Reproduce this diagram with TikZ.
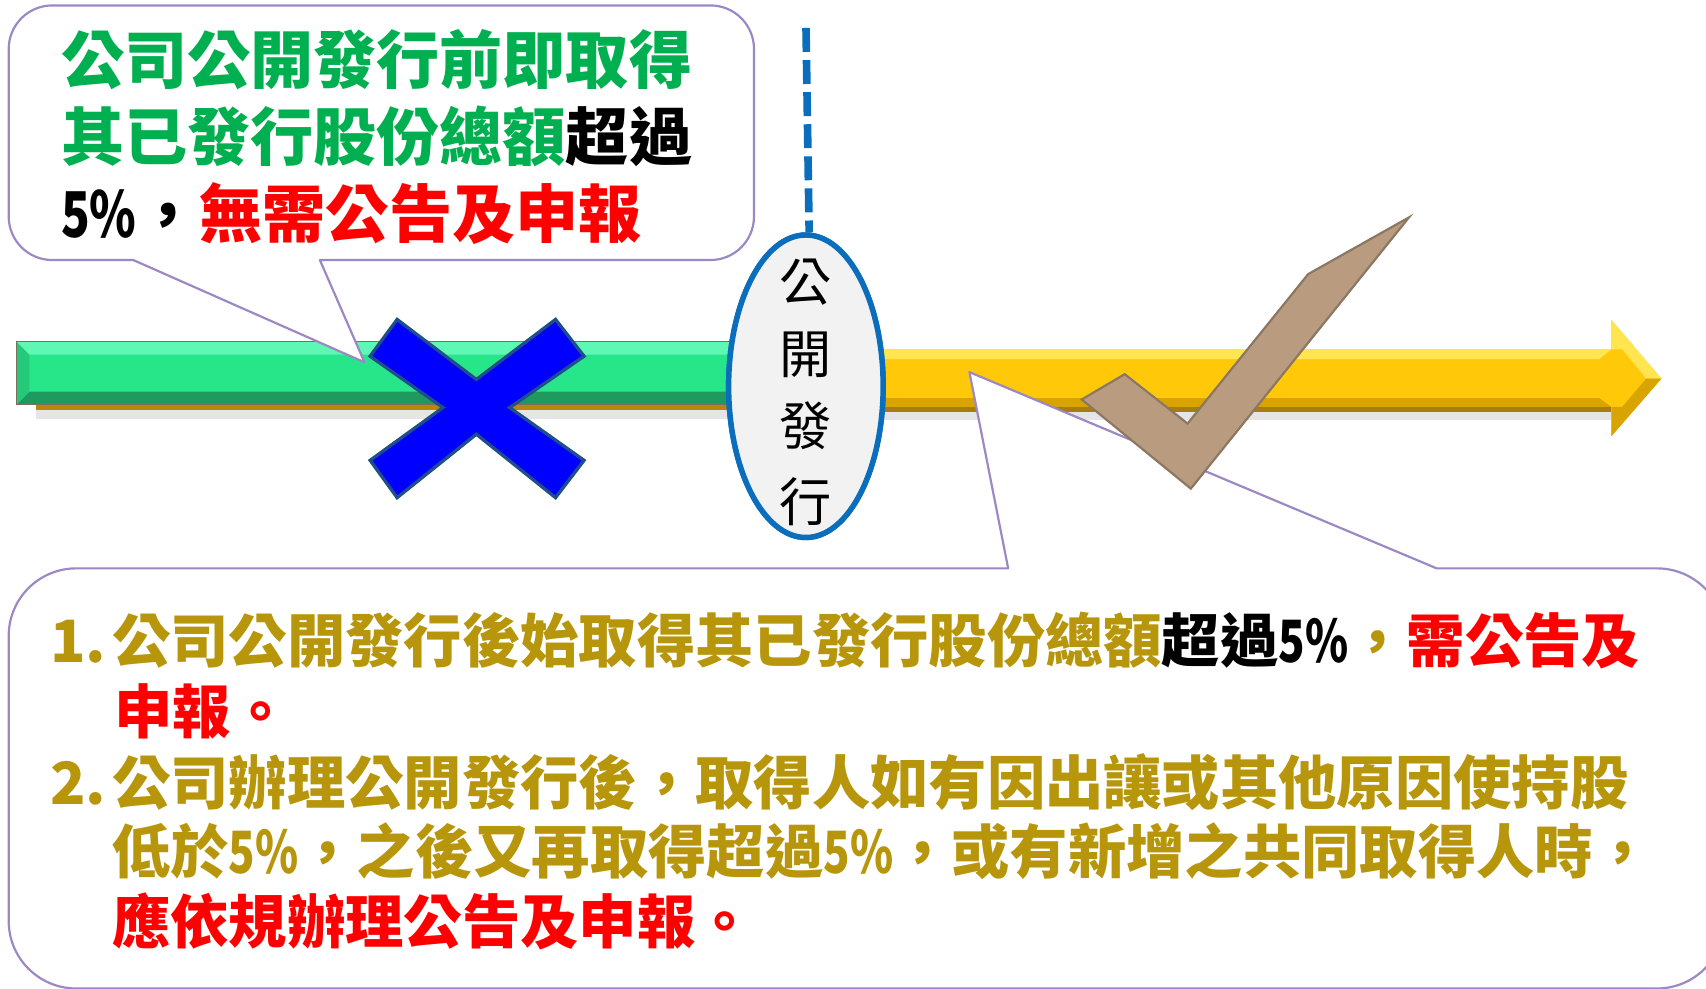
\documentclass[tikz,border=0pt]{standalone}
\usepackage{fontspec}
\usepackage{graphicx}
\usetikzlibrary{shapes.geometric}
\newfontfamily\cjk{Noto Sans CJK TC}
\definecolor{tgreen}{HTML}{00B050}
\definecolor{tred}{HTML}{FF0000}
\definecolor{tgold}{HTML}{B8960C}
\definecolor{cbord}{HTML}{9C88C4}
\definecolor{eblue}{HTML}{0A6EBD}
\definecolor{efill}{HTML}{F2F2F2}
\definecolor{gmain}{HTML}{27E68A}
\definecolor{glight}{HTML}{5EF8B4}
\definecolor{gdark}{HTML}{1E9A5E}
\definecolor{gside}{HTML}{24C97A}
\definecolor{gbord}{HTML}{7D6E60}
\definecolor{shgold}{HTML}{B8860B}
\definecolor{ymain}{HTML}{FFC90A}
\definecolor{ylight}{HTML}{FFE650}
\definecolor{ydark}{HTML}{D9A300}
\definecolor{yshadow}{HTML}{A87C10}
\definecolor{xfill}{HTML}{0000FF}
\definecolor{xbord}{HTML}{1F4E8C}
\definecolor{ckfill}{HTML}{B99C80}
\definecolor{ckbord}{HTML}{8B7762}
\newcommand\pctv{\scalebox{0.75}[1]{5\%}}
\begin{document}
\begin{tikzpicture}[x=1pt,y=-1pt,
  callout/.style={draw=cbord, line width=2pt, fill=white, line join=round},
  toptxt/.style={anchor=base west, inner sep=0pt, font=\cjk\bfseries\fontsize{58}{70}\selectfont},
  bottxt/.style={anchor=base west, inner sep=0pt, font=\cjk\bfseries\fontsize{53.6}{64}\selectfont, text=tgold},
  pubtxt/.style={inner sep=0pt, font=\cjk\fontsize{48}{58}\selectfont},
  pubring/.style={ellipse, draw=eblue, line width=5pt, fill=efill, minimum width=142pt, minimum height=278pt, inner sep=0pt},
  dashline/.style={draw=eblue, line width=7pt, dash pattern=on 22pt off 7.5pt},
  crossshape/.style={fill=xfill, draw=xbord, line width=3pt, line join=miter},
  checkshape/.style={fill=ckfill, draw=ckbord, line width=2pt, line join=miter}
]
\useasboundingbox (0,0) rectangle (1568,909);
\clip (0,0) rectangle (1568,909);
\fill[white] (0,0) rectangle (1568,909);

% ---- shadows of the bars
\fill[black, opacity=0.10] (33,377) rectangle (672,385);
\fill[shgold] (33,371) rectangle (672,377);
\fill[black, opacity=0.10] (800,378) rectangle (1481,386);
\fill[yshadow] (800,373) rectangle (1481,379);

% ---- green bar (before public offering)
\fill[gmain] (15,314) rectangle (672,372);
\fill[glight] (15,314) -- (672,314) -- (672,326) -- (27,326) -- cycle;
\fill[gdark] (27,360) -- (672,360) -- (672,372) -- (15,372) -- cycle;
\fill[gside] (15,314) -- (27,326) -- (27,360) -- (15,372) -- cycle;
\draw[gbord, line width=1.3pt] (672,314) -- (15,314) -- (15,372) -- (672,372);

% ---- yellow arrow (after public offering)
\fill[ymain] (800,321) -- (1481,321) -- (1481,294) -- (1527,348) -- (1481,401) -- (1481,374) -- (800,374) -- cycle;
\fill[ylight] (800,321) -- (1481,321) -- (1470,330) -- (800,330) -- cycle;
\fill[ydark] (800,366) -- (1470,366) -- (1481,374) -- (800,374) -- cycle;
\fill[ylight] (1481,294) -- (1527,348) -- (1513,348) -- (1491,321) -- (1481,321) -- cycle;
\fill[ydark] (1481,401) -- (1527,348) -- (1513,348) -- (1491,374) -- (1481,374) -- cycle;

% ---- top callout
\path[callout] (8,45) arc[start angle=180, end angle=270, radius=40]
  -- (653,5) arc[start angle=270, end angle=360, radius=40]
  -- (693,199) arc[start angle=0, end angle=90, radius=40]
  -- (294,239) -- (335,333) -- (122.5,239)
  -- (48,239) arc[start angle=90, end angle=180, radius=40] -- cycle;

% ---- bottom callout
\path[callout] (8,584.4) arc[start angle=180, end angle=270, radius=62]
  -- (926.6,522.4) -- (891,342) -- (1320.5,522.4)
  -- (1523,522.4) arc[start angle=270, end angle=360, radius=62]
  -- (1585,846.5) arc[start angle=0, end angle=90, radius=62]
  -- (70,908.5) arc[start angle=90, end angle=180, radius=62] -- cycle;

% ---- dashed line and public offering ellipse
\coordinate (dtop) at (740.8,25.7);
\node[pubring] (pub) at (740.7,355) {};
\draw[dashline] (dtop) -- ([xshift=3pt]pub.north);
\node[pubring] (pubfront) at (740.7,355) {};
\node[pubtxt] (p1) at (740.7,259.6) {公};
\node[pubtxt] (p2) at (740.7,325.7) {開};
\node[pubtxt] (p3) at (740.7,391.5) {發};
\node[pubtxt] (p4) at (740.7,460.7) {行};

% ---- blue cross
\path[crossshape] (437.8,374.6)
  ++(0,-25.8) -- ++(72.8,-55.2) -- ++(26.2,33.8) -- ++(-68.4,47.2)
  -- ++(68.4,48.5) -- ++(-26.2,34.3) -- ++(-72.8,-58.3)
  -- ++(-72.8,58.3) -- ++(-24.8,-34.3) -- ++(67,-48.5)
  -- ++(-67,-47.2) -- ++(24.8,-33.8) -- cycle;

% ---- brown check mark
\path[checkshape] (994.2,367.2) -- (1033.7,343.9) -- (1091.5,389.3) -- (1202.4,251.9)
  -- (1295,199.8) -- (1094.5,449.1) -- cycle;

% ---- top callout text
\node[toptxt, text=tgreen] (t1) at (56,77) {公司公開發行前即取得};
\node[toptxt] (t2) at (56,147.6) {\textcolor{tgreen}{其已發行股份總額}超過};
\node[toptxt] (t3) at (56,218) {\pctv，\textcolor{tred}{無需公告及申報}};

% ---- bottom callout text
\node[bottxt] (n1) at (46,609) {1.};
\node[bottxt] (b1) at (103,609) {公司公開發行後始取得其已發行股份總額\textcolor{black}{超過\pctv}，\textcolor{tred}{需公告及}};
\node[bottxt, text=tred] (b2) at (105,674) {申報。};
\node[bottxt] (n2) at (46,739) {2.};
\node[bottxt] (b3) at (103,739) {公司辦理公開發行後，取得人如有因出讓或其他原因使持股};
\node[bottxt] (b4) at (103,803) {低於\pctv，之後又再取得超過\pctv，或有新增之共同取得人時，};
\node[bottxt, text=tred] (b5) at (103,867) {應依規辦理公告及申報。};
\end{tikzpicture}
\end{document}
